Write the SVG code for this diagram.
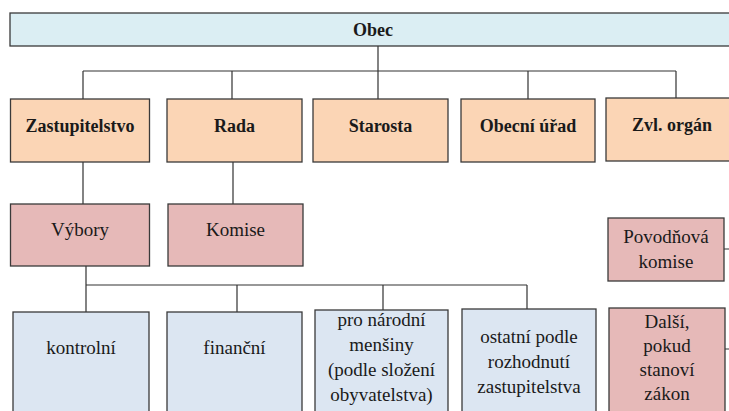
<svg xmlns="http://www.w3.org/2000/svg" width="729" height="411" viewBox="0 0 729 411">
<style>
.box{stroke:#3a3a3a;stroke-width:1.3}
.top{fill:#DBEEF3}
.org{fill:#FBD5B5}
.pink{fill:#E6B9B8}
.blue{fill:#DCE6F2}
text{fill:#1a1a1a;text-anchor:middle}
#connectors path{stroke:#333;stroke-width:1.2;fill:none}
</style>
<rect width="729" height="411" fill="#ffffff"/>
<g id="connectors">
<path d="M378 46V99M83 71H676M83 71V99M232 71V99M528 71V99M676 71V99"/>
<path d="M83 162V204M233 162V204"/>
<path d="M86 266V312M86 285H527M237 285V312M383 285V310M527 285V309"/>
<path d="M724 249H730M725 349H730"/>
</g>
<g font-family="Liberation Serif, DejaVu Serif, serif" font-weight="bold" font-size="18">
<g id="obec"><rect class="box top" x="10" y="13" width="740" height="33"/><text x="373" y="36">Obec</text></g>
<g id="zastupitelstvo"><rect class="box org" x="10.5" y="99" width="139" height="63"/><text x="80" y="132">Zastupitelstvo</text></g>
<g id="rada"><rect class="box org" x="167" y="99" width="135" height="63"/><text x="234.5" y="132">Rada</text></g>
<g id="starosta"><rect class="box org" x="313" y="99" width="135" height="63"/><text x="380.5" y="132">Starosta</text></g>
<g id="obecni-urad"><rect class="box org" x="461" y="99" width="134" height="63"/><text x="528" y="132">Obecní úřad</text></g>
<g id="zvl-organ"><rect class="box org" x="606" y="98" width="132" height="63"/><text x="672" y="131">Zvl. orgán</text></g>
</g>
<g font-family="Liberation Serif, DejaVu Serif, serif" font-size="19">
<g id="vybory"><rect class="box pink" x="10.5" y="204" width="139" height="62"/><text x="80" y="236">Výbory</text></g>
<g id="komise"><rect class="box pink" x="168" y="204" width="135" height="62"/><text x="235.5" y="236">Komise</text></g>
<g id="povodnova"><rect class="box pink" x="608" y="218" width="116" height="63"/><text x="666" y="243">Povodňová</text><text x="666" y="268">komise</text></g>
<g id="kontrolni"><rect class="box blue" x="13" y="312" width="136" height="110"/><text x="81" y="354">kontrolní</text></g>
<g id="financni"><rect class="box blue" x="167" y="312" width="135" height="110"/><text x="234.5" y="354">finanční</text></g>
<g id="mensiny"><rect class="box blue" x="315" y="310" width="133" height="112"/><text x="381.5" y="326">pro národní</text><text x="381.5" y="351">menšiny</text><text x="381.5" y="376">(podle složení</text><text x="381.5" y="401">obyvatelstva)</text></g>
<g id="ostatni"><rect class="box blue" x="462" y="309" width="134" height="113"/><text x="529" y="343">ostatní podle</text><text x="529" y="368">rozhodnutí</text><text x="529" y="393">zastupitelstva</text></g>
<g id="dalsi"><rect class="box pink" x="609" y="308" width="116" height="114"/><text x="667" y="328">Další,</text><text x="667" y="352">pokud</text><text x="667" y="376">stanoví</text><text x="667" y="400">zákon</text></g>
</g>
</svg>
